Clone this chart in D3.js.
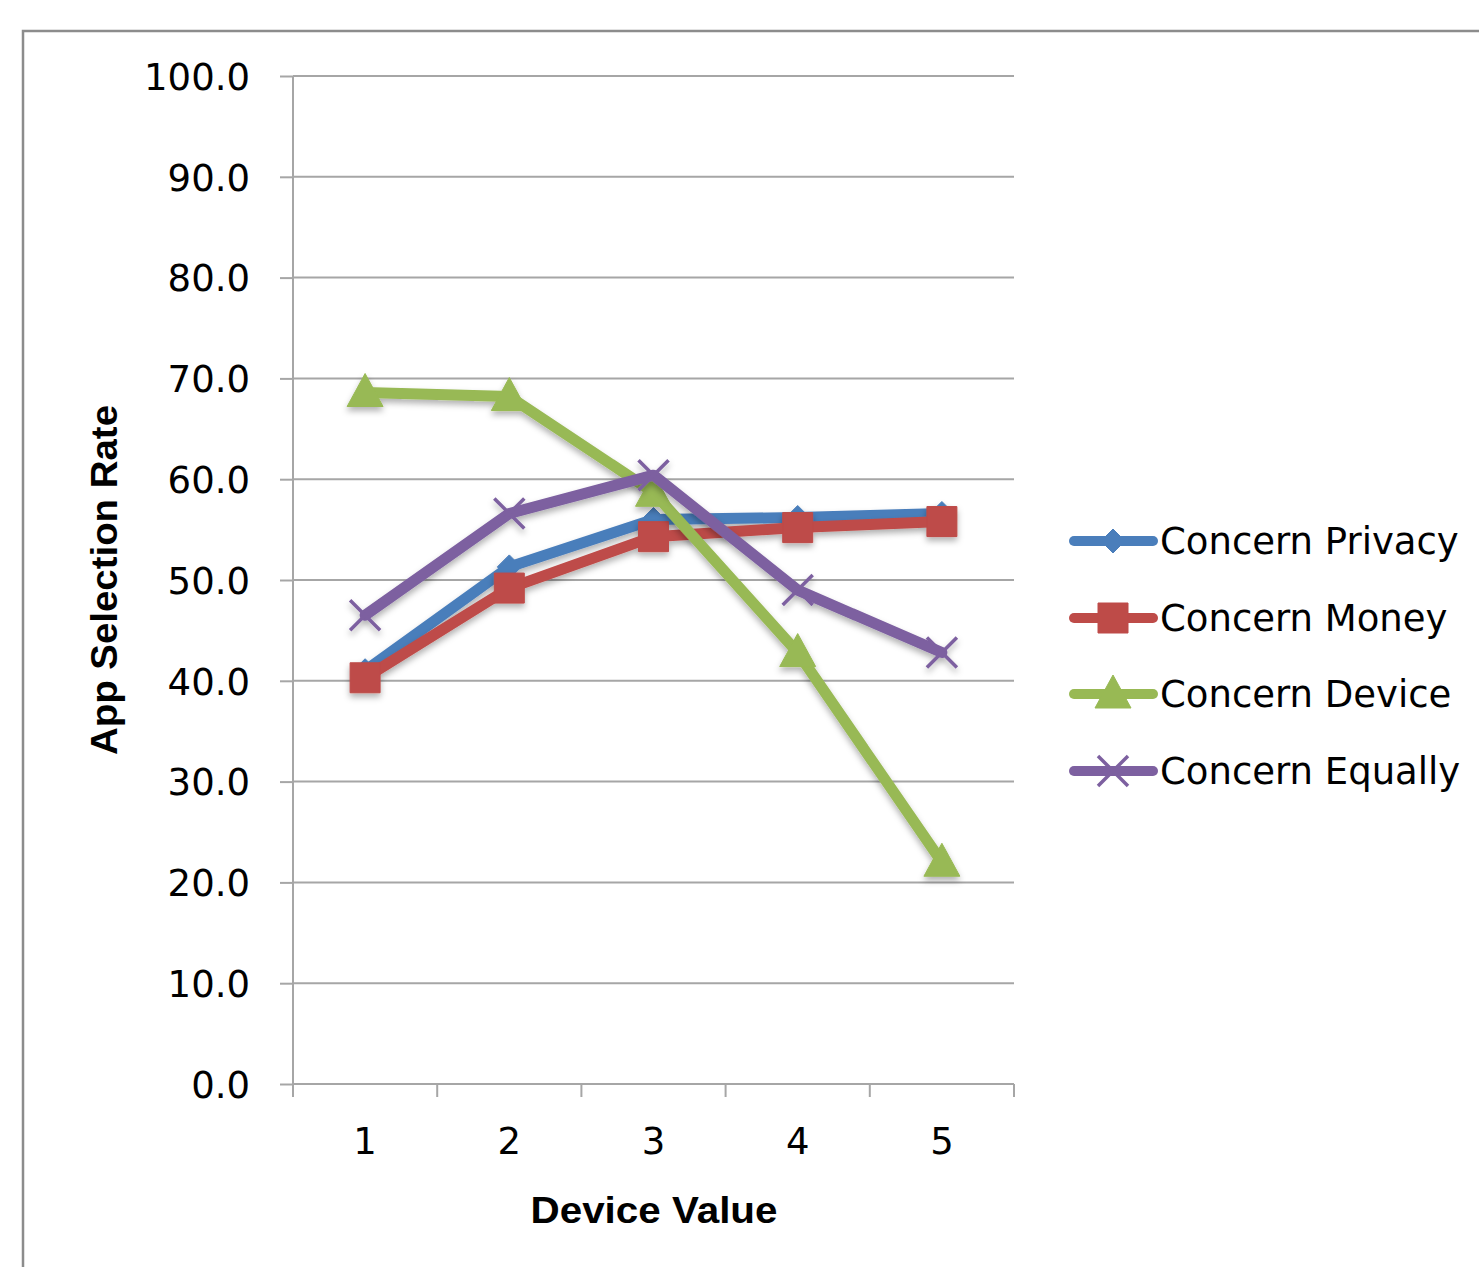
<!DOCTYPE html>
<html><head><meta charset="utf-8">
<script src="https://cdn.jsdelivr.net/npm/d3@7"></script>
<style>body{margin:0;background:#fff}svg{display:block}</style>
</head><body>
<script>
const categories = ["1","2","3","4","5"];
const seriesNames = ["Concern Privacy","Concern Money","Concern Device","Concern Equally"];
const privacy = [41.0, 51.3, 56.0, 56.2, 56.6];
const money   = [40.3, 49.2, 54.3, 55.2, 55.8];
const device  = [68.6, 68.2, 58.7, 42.8, 22.0];
const equally = [46.5, 56.6, 60.4, 49.0, 42.8];
const yTicks = [0,10,20,30,40,50,60,70,80,90,100];
const colors = ["#4a7ebb","#be4b48","#98b954","#7d60a0"];
const markers = ["diamond","square","triangle","x"];
const allSeries = [privacy, money, device, equally];

(function(){
const W = 1479, H = 1267;
const svg = d3.select("body").append("svg").attr("width", W).attr("height", H);
const defs = svg.append("defs");
const f = defs.append("filter").attr("id","sh").attr("x","-50%").attr("y","-50%").attr("width","200%").attr("height","200%");
f.append("feDropShadow").attr("dx",0).attr("dy",4).attr("stdDeviation",3).attr("flood-color","#000").attr("flood-opacity",0.3);

svg.append("rect").attr("x",23).attr("y",31).attr("width",W).attr("height",H)
  .attr("fill","#fff").attr("stroke","#8c8c8c").attr("stroke-width",2.5);

const pl = 293, pr = 1014, pt = 76, pb = 1084;
const x = d3.scaleBand().domain(categories).range([pl, pr]);
const y = d3.scaleLinear().domain([0,100]).range([pb, pt]);
const font = "'DejaVu Sans', sans-serif";

svg.append("g").selectAll("line").data(yTicks.filter(d=>d>0)).join("line")
  .attr("x1", pl).attr("x2", pr).attr("y1", d=>y(d)).attr("y2", d=>y(d))
  .attr("stroke","#a6a6a6").attr("stroke-width",2);

const ya = svg.append("g").attr("transform",`translate(${pl},0)`)
  .call(d3.axisLeft(y).tickValues(yTicks).tickSize(13).tickPadding(30).tickFormat(d3.format(".1f")));
ya.select(".domain").attr("stroke","#a6a6a6").attr("stroke-width",2).attr("d",`M0,${pt}V${pb}`);
ya.selectAll(".tick line").attr("stroke","#a6a6a6").attr("stroke-width",2);
ya.selectAll("text").attr("font-family",font).attr("font-size",37).attr("fill","#000").attr("dy","0.36em");

const xa = svg.append("g").attr("transform",`translate(0,${pb})`)
  .call(d3.axisBottom(x).tickSize(0).tickPadding(44));
xa.select(".domain").attr("stroke","#a6a6a6").attr("stroke-width",2).attr("d",`M${pl},0H${pr}`);
xa.selectAll("text").attr("font-family",font).attr("font-size",37).attr("fill","#000");
const bounds = categories.map(c=>x(c)).concat([pr]);
xa.selectAll(".bt").data(bounds).join("line").attr("class","bt")
  .attr("x1",d=>d).attr("x2",d=>d).attr("y1",0).attr("y2",13)
  .attr("stroke","#a6a6a6").attr("stroke-width",2);

svg.append("text").attr("x", 654).attr("y", 1223).attr("text-anchor","middle")
  .attr("font-family","'Liberation Sans', sans-serif").attr("font-weight","bold").attr("font-size",37)
  .attr("textLength",247).attr("lengthAdjust","spacingAndGlyphs").text("Device Value");
svg.append("text").attr("transform","translate(117,580) rotate(-90)").attr("text-anchor","middle")
  .attr("font-family","'Liberation Sans', sans-serif").attr("font-weight","bold").attr("font-size",37)
  .attr("textLength",350).attr("lengthAdjust","spacingAndGlyphs").text("App Selection Rate");

function markerPath(type){
  if(type==="diamond") return "M0,-12L12,0L0,12L-12,0Z";
  if(type==="square") return "M-15,-15H15V15H-15Z";
  if(type==="triangle") return "M0,-19L18,14H-18Z";
  return "M-15,-15L15,15M15,-15L-15,15";
}
function drawMarker(g, type, color){
  if(type==="x"){
    g.append("path").attr("d",markerPath(type)).attr("stroke",color).attr("stroke-width",3.5).attr("fill","none");
  } else {
    g.append("path").attr("d",markerPath(type)).attr("fill",color).attr("stroke",color).attr("stroke-width",1);
  }
}

const line = d3.line().x((d,i)=>x(categories[i]) + x.bandwidth()/2).y(d=>y(d));
allSeries.forEach((s, k) => {
  const g = svg.append("g").attr("filter","url(#sh)");
  g.append("path").datum(s).attr("d", line).attr("fill","none")
    .attr("stroke", colors[k]).attr("stroke-width", 11).attr("stroke-linejoin","round").attr("stroke-linecap","round");
  s.forEach((v,i)=>{
    const m = g.append("g").attr("transform",`translate(${x(categories[i]) + x.bandwidth()/2},${y(v)})`);
    drawMarker(m, markers[k], colors[k]);
  });
});

const legY = [541, 618, 694, 771];
seriesNames.forEach((name,k)=>{
  const g = svg.append("g");
  g.append("line").attr("x1",1074).attr("x2",1153).attr("y1",legY[k]).attr("y2",legY[k])
    .attr("stroke",colors[k]).attr("stroke-width",10).attr("stroke-linecap","round");
  const m = g.append("g").attr("transform",`translate(1113,${legY[k]})`);
  drawMarker(m, markers[k], colors[k]);
  g.append("text").attr("x",1160).attr("y",legY[k]).attr("dy","0.36em")
    .attr("font-family",font).attr("font-size",37).attr("fill","#000").text(name);
});
})();
</script>
</body></html>
